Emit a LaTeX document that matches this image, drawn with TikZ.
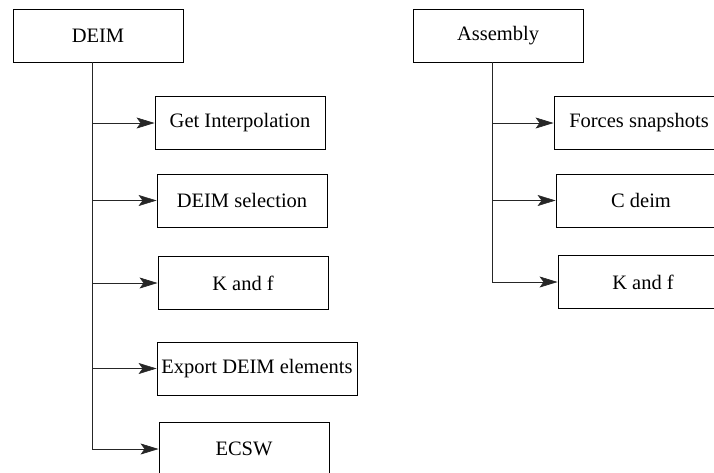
\documentclass[tikz,border=0pt]{standalone}
\usepackage{fontspec}
\setmainfont{Liberation Serif}
\usetikzlibrary{arrows.meta}

\tikzset{
  box/.style={shape=rectangle,draw=black,line width=0.9pt,minimum width=170pt,minimum height=53pt,inner sep=1pt,font=\fontsize{20.5}{24}\selectfont},
  wide/.style={box,minimum width=200pt},
  link/.style={line width=0.6pt,draw=black!85},
  arr/.style={link,-{Stealth[length=18pt,width=11pt,inset=4pt]}}
}

\begin{document}
\begin{tikzpicture}[x=1pt,y=-1pt]
        \clip (0,0) rectangle (714,472);

        \node[box] (deim) at (98,35.5) {DEIM};
        \node[box] (interp) at (240,123) {Get Interpolation};
        \node[box] (select) at (242,200.5) {DEIM selection};
        \node[box] (kf) at (243,283) {K and f};
        \node[wide] (export) at (257,368.5) {Export DEIM elements};
        \node[box] (ecsw) at (244,449) {ECSW};

        \node[box] (asm) at (498,35.5) {Assembly};
        \node[box] (forces) at (639,123) {Forces snapshots};
        \node[box] (cdeim) at (641,200.5) {C deim};
        \node[box] (kfa) at (643,282) {K and f};

        \coordinate (dtrunk) at (92,62);
        \coordinate (atrunk) at (492,62);

        \draw [link] (dtrunk) -- (dtrunk |- ecsw.west);
        \draw [arr] (dtrunk |- interp.west) -- (interp.west);
        \draw [arr] (dtrunk |- select.west) -- (select.west);
        \draw [arr] (dtrunk |- kf.west) -- (kf.west);
        \draw [arr] (dtrunk |- export.west) -- (export.west);
        \draw [arr] (dtrunk |- ecsw.west) -- (ecsw.west);

        \draw [link] (atrunk) -- (atrunk |- kfa.west);
        \draw [arr] (atrunk |- forces.west) -- (forces.west);
        \draw [arr] (atrunk |- cdeim.west) -- (cdeim.west);
        \draw [arr] (atrunk |- kfa.west) -- (kfa.west);
    \end{tikzpicture}
\end{document}
